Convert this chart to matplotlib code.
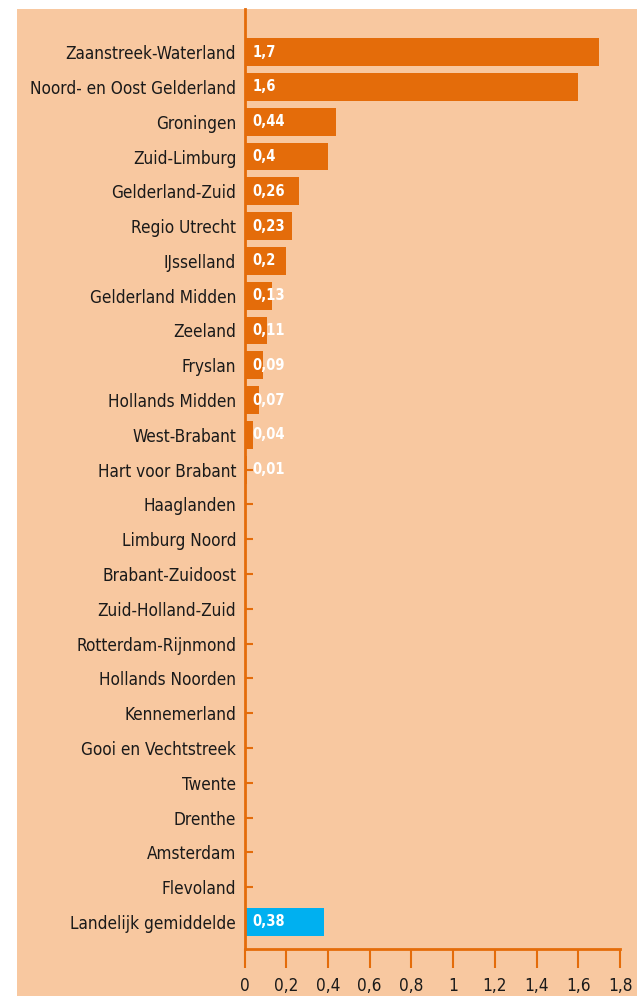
import matplotlib
matplotlib.use("Agg")
import matplotlib.pyplot as plt
from matplotlib.patches import Rectangle

categories = ["Zaanstreek-Waterland", "Noord- en Oost Gelderland", "Groningen", "Zuid-Limburg",
              "Gelderland-Zuid", "Regio Utrecht", "IJsselland", "Gelderland Midden", "Zeeland",
              "Fryslan", "Hollands Midden", "West-Brabant", "Hart voor Brabant", "Haaglanden",
              "Limburg Noord", "Brabant-Zuidoost", "Zuid-Holland-Zuid", "Rotterdam-Rijnmond",
              "Hollands Noorden", "Kennemerland", "Gooi en Vechtstreek", "Twente", "Drenthe",
              "Amsterdam", "Flevoland", "Landelijk gemiddelde"]
values = [1.7, 1.6, 0.44, 0.4, 0.26, 0.23, 0.2, 0.13, 0.11, 0.09, 0.07, 0.04, 0.01,
          0, 0, 0, 0, 0, 0, 0, 0, 0, 0, 0, 0, 0.38]
xticks = [0, 0.2, 0.4, 0.6, 0.8, 1, 1.2, 1.4, 1.6, 1.8]
xticklabels = ["0", "0,2", "0,4", "0,6", "0,8", "1", "1,2", "1,4", "1,6", "1,8"]

ORANGE = "#E46C0A"
BLUE = "#00B0F0"
PEACH = "#F8C8A0"

W, H = 637, 996
fig = plt.figure(figsize=(W / 100, H / 100), dpi=100, facecolor="white")
bg = Rectangle((17 / W, 0), 1 - 17 / W, 1 - 9 / H, transform=fig.transFigure,
               facecolor=PEACH, edgecolor="none", zorder=-10)
fig.add_artist(bg)

ax = fig.add_axes([244.5 / W, 47 / H, (620 - 244.5) / W, (949 - 9) / H])
ax.set_facecolor("none")
ax.set_zorder(1)

n = len(categories)
ypos = list(range(n))
colors = [ORANGE] * (n - 1) + [BLUE]
ax.barh(ypos, values, height=0.8, color=colors, zorder=2)

for y, v in zip(ypos, values):
    if v > 0:
        lab = f"{v:g}".replace(".", ",")
        ax.annotate(lab, (0, y), xytext=(5.5, 0), textcoords="offset points",
                    ha="left", va="center", color="white", fontweight="bold",
                    fontsize=10.5, fontstretch="condensed", zorder=3)

ax.set_xlim(0, 1.8)
ax.set_ylim(n - 1 + 0.776, -1.24)
ax.set_yticks(ypos)
ax.set_yticklabels(categories, fontsize=12.3, color="#1a1a1a", fontstretch="condensed")
ax.set_xticks(xticks)
ax.set_xticklabels(xticklabels, fontsize=12.3, color="#1a1a1a", fontstretch="condensed")

for s in ["top", "right"]:
    ax.spines[s].set_visible(False)
for s in ["left", "bottom"]:
    ax.spines[s].set_color(ORANGE)
    ax.spines[s].set_linewidth(2)

ax.tick_params(axis="y", direction="in", length=6, width=1.5, color=ORANGE, pad=6)
ax.tick_params(axis="x", direction="out", length=14, width=1.5, color=ORANGE, pad=6)

fig.savefig("out.png", dpi=100, facecolor="white")
